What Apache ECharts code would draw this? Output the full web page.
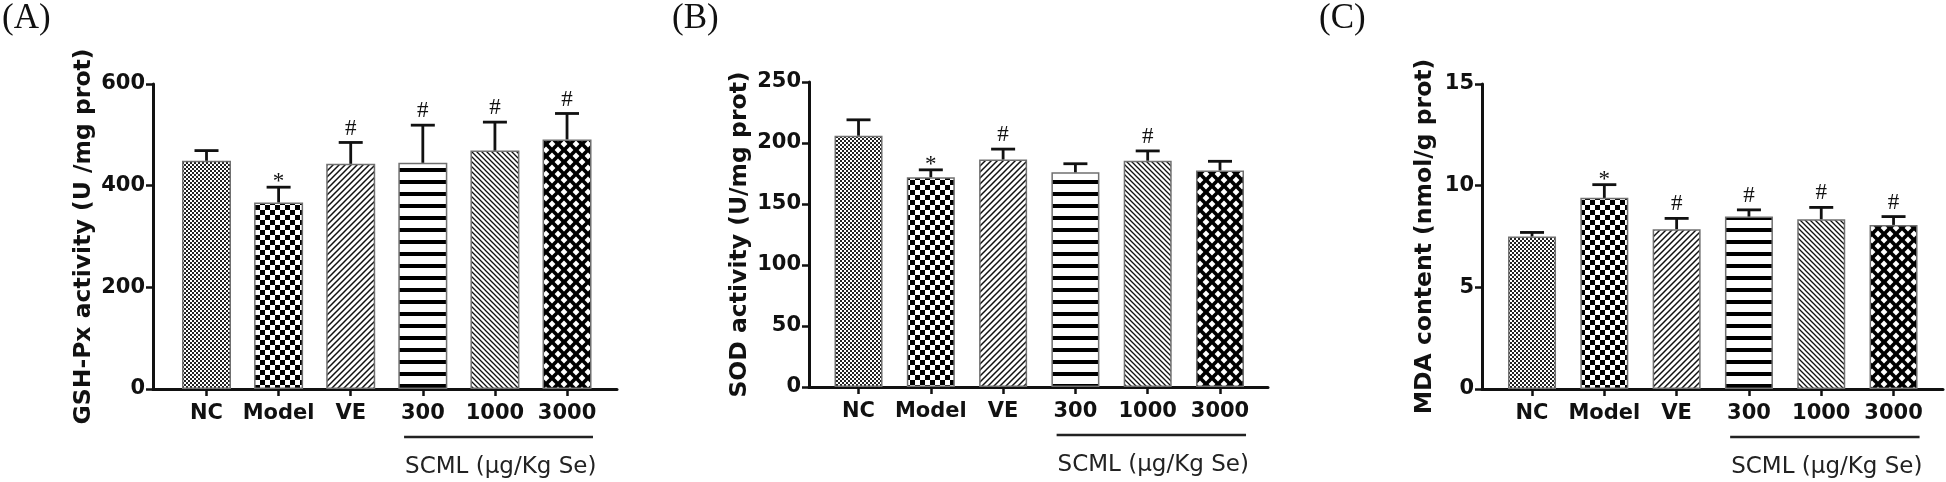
<!DOCTYPE html>
<html><head><meta charset="utf-8">
<script src="https://cdn.jsdelivr.net/npm/echarts@6/dist/echarts.min.js"></script>
<style>html,body{margin:0;padding:0;background:#fff}#c{width:1946px;height:482px}</style>
</head><body><div id="c"></div>
<script>
// ---- data ----
const categories = ['NC', 'Model', 'VE', '300', '1000', '3000'];
const groupLabel = 'SCML (μg/Kg Se)';
const groupRange = [3, 5];
const panelLabels = ['(A)', '(B)', '(C)'];
const yTitles = ['GSH-Px activity (U /mg prot)', 'SOD activity (U/mg prot)', 'MDA content (nmol/g prot)'];
const yTicksA = [0, 200, 400, 600];
const yTicksB = [0, 50, 100, 150, 200, 250];
const yTicksC = [0, 5, 10, 15];
const gshMean = [449, 367, 443, 445, 469, 491];
const gshErr = [20, 30, 42, 74, 56, 51];
const gshSig = ['', '*', '#', '#', '#', '#'];
const sodMean = [206, 172, 186.5, 176, 185.5, 177.5];
const sodErr = [13, 6, 8.5, 7, 8, 7.5];
const sodSig = ['', '*', '#', '', '#', ''];
const mdaMean = [7.5, 9.4, 7.86, 8.48, 8.35, 8.07];
const mdaErr = [0.2, 0.65, 0.53, 0.33, 0.58, 0.41];
const mdaSig = ['', '*', '#', '#', '#', '#'];

// ---- patterns ----
function tile(w, h, draw) {
  const c = document.createElement('canvas');
  c.width = w; c.height = h;
  const g = c.getContext('2d');
  draw(g, w, h);
  return { image: c, repeat: 'repeat' };
}
const patterns = [
  tile(4, 4, (g) => { g.fillStyle = '#fff'; g.fillRect(0, 0, 4, 4); g.fillStyle = '#222'; g.fillRect(0, 0, 2, 2); g.fillRect(2, 2, 2, 2); }),
  tile(10, 10, (g) => { g.fillStyle = '#fff'; g.fillRect(0, 0, 10, 10); g.fillStyle = '#000'; g.fillRect(0, 0, 5, 5); g.fillRect(5, 5, 5, 5); }),
  tile(6, 6, (g) => { g.fillStyle = '#fff'; g.fillRect(0, 0, 6, 6); g.strokeStyle = '#111'; g.lineWidth = 1.5; g.beginPath(); g.moveTo(0, 6); g.lineTo(6, 0); g.moveTo(-1, 1); g.lineTo(1, -1); g.moveTo(5, 7); g.lineTo(7, 5); g.stroke(); }),
  tile(12, 12, (g) => { g.fillStyle = '#fff'; g.fillRect(0, 0, 12, 12); g.fillStyle = '#000'; g.fillRect(0, 0, 12, 4); }),
  tile(5, 5, (g) => { g.fillStyle = '#fff'; g.fillRect(0, 0, 5, 5); g.strokeStyle = '#111'; g.lineWidth = 1.3; g.beginPath(); g.moveTo(0, 0); g.lineTo(5, 5); g.moveTo(4, -1); g.lineTo(6, 1); g.moveTo(-1, 4); g.lineTo(1, 6); g.stroke(); }),
  tile(12, 12, (g) => {
    g.fillStyle = '#000'; g.fillRect(0, 0, 12, 12); g.fillStyle = '#fff';
    const r = 3.4;
    [[6, 6], [0, 0], [12, 0], [0, 12], [12, 12]].forEach(([cx, cy]) => { g.beginPath(); g.moveTo(cx, cy - r); g.lineTo(cx + r, cy); g.lineTo(cx, cy + r); g.lineTo(cx - r, cy); g.closePath(); g.fill(); });
  })
];

// ---- layout ----
const panels = [
  { mean: gshMean, err: gshErr, sig: gshSig, ticks: yTicksA, grid: { left: 153, top: 84, width: 464, height: 305 }, xr: [-0.742, 5.693], bw: 49, nameGap: 57, lx: 2 },
  { mean: sodMean, err: sodErr, sig: sodSig, ticks: yTicksB, grid: { left: 809, top: 82, width: 459, height: 305 }, xr: [-0.685, 5.664], bw: 48, nameGap: 57, lx: 672 },
  { mean: mdaMean, err: mdaErr, sig: mdaSig, ticks: yTicksC, grid: { left: 1482, top: 84, width: 461, height: 305 }, xr: [-0.692, 5.684], bw: 48, nameGap: 45, lx: 1319 }
];
const ink = '#111';
const tickFont = { fontFamily: 'DejaVu Sans', fontWeight: 'bold', fontSize: 21, color: ink };
const idx = categories.map((_, i) => i);

const option = { animation: false, title: [], grid: [], xAxis: [], yAxis: [], series: [] };
panels.forEach((p, i) => {
  option.title.push({ text: panelLabels[i], left: p.lx, top: 1, padding: 0, textStyle: { fontFamily: 'Liberation Serif', fontWeight: 'normal', fontSize: 35, color: ink } });
  option.grid.push(p.grid);
  option.xAxis.push({
    type: 'value', gridIndex: i, min: p.xr[0], max: p.xr[1],
    axisLine: { show: true, lineStyle: { color: ink, width: 3 } },
    axisTick: { show: true, length: 7, customValues: idx, lineStyle: { color: ink, width: 2.5 } },
    axisLabel: Object.assign({ customValues: idx, margin: 14, formatter: (v) => categories[Math.round(v)] }, tickFont),
    splitLine: { show: false }
  });
  const t = p.ticks;
  option.yAxis.push({
    type: 'value', gridIndex: i, min: t[0], max: t[t.length - 1], interval: t[1] - t[0],
    axisLine: { show: true, onZero: false, lineStyle: { color: ink, width: 3 } },
    axisTick: { show: true, length: 7, lineStyle: { color: ink, width: 2.5 } },
    axisLabel: Object.assign({ margin: 8 }, tickFont),
    splitLine: { show: false },
    name: yTitles[i], nameLocation: 'middle', nameRotate: 90, nameGap: p.nameGap,
    nameTextStyle: { fontFamily: 'DejaVu Sans', fontWeight: 'bold', fontSize: 23.5, color: ink }
  });
  option.series.push({
    type: 'bar', xAxisIndex: i, yAxisIndex: i, barWidth: p.bw, z: 2,
    itemStyle: { borderColor: '#707070', borderWidth: 1.5 },
    data: p.mean.map((v, k) => ({ value: [k, v], itemStyle: { color: patterns[k] } }))
  });
  option.series.push({
    type: 'custom', xAxisIndex: i, yAxisIndex: i, clip: false, z: 3,
    encode: { x: 0, y: 1 },
    data: p.mean.map((v, k) => [k, v, p.err[k]]),
    renderItem: (params, api) => {
      const x = api.value(0), m = api.value(1), e = api.value(2);
      const p0 = api.coord([x, m]), p1 = api.coord([x, m + e]);
      const s = p.sig[params.dataIndex];
      const ch = [
        { type: 'line', shape: { x1: p0[0], y1: p0[1], x2: p1[0], y2: p1[1] }, style: { stroke: ink, lineWidth: 2.8 } },
        { type: 'line', shape: { x1: p1[0] - 12, y1: p1[1], x2: p1[0] + 12, y2: p1[1] }, style: { stroke: ink, lineWidth: 2.8 } }
      ];
      if (s) ch.push({ type: 'text', style: { text: s, x: p1[0], y: p1[1] + (s === '*' ? -5 : -14), align: 'center', verticalAlign: 'middle', fontFamily: 'Liberation Serif', fontSize: 23, fill: ink } });
      return { type: 'group', children: ch };
    }
  });
  option.series.push({
    type: 'custom', xAxisIndex: i, yAxisIndex: i, clip: false, z: 3,
    encode: { x: 0, y: 1 },
    data: [[groupRange[0], 0, groupRange[1]]],
    renderItem: (params, api) => {
      const pa = api.coord([api.value(0) - 0.26, 0]);
      const pb = api.coord([api.value(2) + 0.36, 0]);
      const y0 = pa[1];
      return { type: 'group', children: [
        { type: 'line', shape: { x1: pa[0], y1: y0 + 48, x2: pb[0], y2: y0 + 48 }, style: { stroke: '#222', lineWidth: 2.6 } },
        { type: 'text', style: { text: groupLabel, x: pa[0] + 1, y: y0 + 78, align: 'left', verticalAlign: 'middle', fontFamily: 'DejaVu Sans', fontSize: 23, fill: '#222' } }
      ] };
    }
  });
});
const chart = echarts.init(document.getElementById('c'), null, { renderer: 'canvas' });
chart.setOption(option);
</script>
</body></html>
